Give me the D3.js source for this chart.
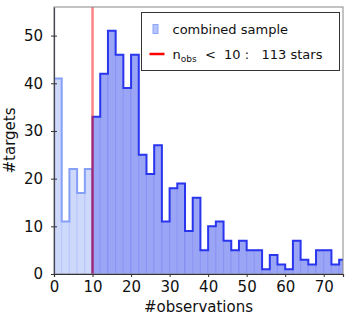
<!DOCTYPE html>
<html>
<head>
<meta charset="utf-8">
<script src="https://cdn.jsdelivr.net/npm/d3@7"></script>
<style>
  body { margin: 0; background: #fff; }
  text { font-family: "DejaVu Sans", sans-serif; fill: #111; }
</style>
</head>
<body>
<div id="chart"></div>
<script>
// histogram bins, width 2 observations
var binWidth = 2;
var lowBins = [0, 2, 4, 6, 8];                 // n_obs < 10
var lowCounts = [41, 11, 22, 17, 22];
var highBins = [10, 12, 14, 16, 18, 20, 22, 24, 26, 28, 30, 32, 34, 36, 38, 40, 42,
                44, 46, 48, 50, 52, 54, 56, 58, 60, 62, 64, 66, 68, 70, 72, 74];
var highCounts = [33, 42, 51, 46, 39, 46, 25, 21, 27, 11, 18, 19, 9, 16, 5, 10, 11,
                  7, 5, 7, 5, 5, 1, 4, 2, 1, 7, 3, 2, 5, 5, 2, 3];
var xTicks = [0, 10, 20, 30, 40, 50, 60, 70];
var yTicks = [0, 10, 20, 30, 40, 50];
var cutValue = 10;
var nLow = 113;

var width = 354, height = 322;
var margin = {top: 7, right: 11, bottom: 48, left: 54};
var widthG = width - margin.left - margin.right;
var heightG = height - margin.top - margin.bottom;

var svg = d3.select("#chart").append("svg")
  .attr("width", width)
  .attr("height", height);

var g = svg.append("g")
  .attr("transform", "translate(" + margin.left + "," + margin.top + ")");

var x = d3.scaleLinear().domain([0, 75]).range([0, widthG]);
var y = d3.scaleLinear().domain([0, 56]).range([heightG, 0]);

svg.append("defs").append("clipPath").attr("id", "plotclip")
  .append("rect").attr("width", widthG).attr("height", heightG);

var plot = g.append("g").attr("clip-path", "url(#plotclip)");

function toBins(starts, counts) {
  return starts.map(function(s, i) { return {x0: s, x1: s + binWidth, n: counts[i]}; });
}
var low = toBins(lowBins, lowCounts);
var high = toBins(highBins, highCounts);

function stepPoints(bins) {
  var pts = [[bins[0].x0, 0]];
  bins.forEach(function(b) { pts.push([b.x0, b.n]); pts.push([b.x1, b.n]); });
  pts.push([bins[bins.length - 1].x1, 0]);
  return pts;
}
var line = d3.line().x(function(d) { return x(d[0]); }).y(function(d) { return y(d[1]); });

function drawHist(bins, fill, edge, outline) {
  plot.append("g").selectAll("rect")
    .data(bins)
    .enter().append("rect")
    .attr("x", function(d) { return x(d.x0); })
    .attr("y", function(d) { return y(d.n); })
    .attr("width", function(d) { return x(d.x1) - x(d.x0); })
    .attr("height", function(d) { return y(0) - y(d.n); })
    .attr("fill", fill)
    .attr("stroke", edge)
    .attr("stroke-width", 1);
  plot.append("path")
    .attr("d", line(stepPoints(bins)))
    .attr("fill", "none")
    .attr("stroke", outline)
    .attr("stroke-width", 2);
}

drawHist(low, "#cdd8fb", "rgba(150,170,250,0.35)", "#86a0f8");
drawHist(high, "#9ba5f5", "rgba(100,110,240,0.35)", "#2a36ee");

// cut line
plot.append("line")
  .attr("x1", x(cutValue)).attr("x2", x(cutValue))
  .attr("y1", 0).attr("y2", heightG)
  .attr("stroke", "rgba(250,30,30,0.55)")
  .attr("stroke-width", 2.5);

// frame
g.append("rect")
  .attr("width", widthG).attr("height", heightG)
  .attr("fill", "none").attr("stroke", "#888").attr("stroke-width", 1);

// axes
var xAxis = d3.axisBottom(x).tickValues(xTicks).tickSize(3).tickPadding(4);
var gx = g.append("g").attr("transform", "translate(0," + heightG + ")").call(xAxis);
gx.select(".domain").attr("stroke", "#333").attr("stroke-width", 1.2);
gx.selectAll("line").attr("stroke", "#333");
gx.selectAll("text").style("font-size", "15px").attr("fill", "#111");

var yAxis = d3.axisLeft(y).tickValues(yTicks).tickSizeInner(3).tickSizeOuter(0).tickPadding(8);
var gy = g.append("g").call(yAxis);
gy.select(".domain").attr("stroke", "#445").attr("stroke-width", 1.2);
gy.selectAll(".tick line").attr("stroke", "#333").attr("x2", 3).attr("x1", -3);
gy.selectAll("text").style("font-size", "15px").attr("fill", "#111");

// axis titles
g.append("text")
  .attr("x", widthG / 2).attr("y", heightG + 38)
  .attr("text-anchor", "middle")
  .style("font-size", "15px")
  .text("#observations");

g.append("text")
  .attr("transform", "translate(" + (-39) + "," + (heightG / 2) + ") rotate(-90)")
  .attr("text-anchor", "middle")
  .style("font-size", "15px")
  .text("#targets");

// legend
var leg = svg.append("g").attr("transform", "translate(141.5,12.5)");
leg.append("rect")
  .attr("width", 198).attr("height", 58)
  .attr("fill", "#fff").attr("stroke", "#333").attr("stroke-width", 1);
leg.append("rect")
  .attr("x", 11.5).attr("y", 12).attr("width", 5).attr("height", 9)
  .attr("fill", "#b5c4fa").attr("stroke", "#8ea6f8").attr("stroke-width", 1);
leg.append("text")
  .attr("x", 31).attr("y", 21)
  .style("font-size", "13px")
  .text("combined sample");
leg.append("line")
  .attr("x1", 8).attr("x2", 23).attr("y1", 41.5).attr("y2", 41.5)
  .attr("stroke", "#f00").attr("stroke-width", 2.5);
var t2 = leg.append("text")
  .attr("x", 31).attr("y", 46)
  .style("font-size", "13px")
  .style("white-space", "pre");
t2.append("tspan").text("n");
t2.append("tspan").attr("dy", 3).style("font-size", "9px").text("obs");
t2.append("tspan").attr("dy", -3).text("  <  " + cutValue + " :   " + nLow + " stars");
</script>
</body>
</html>
